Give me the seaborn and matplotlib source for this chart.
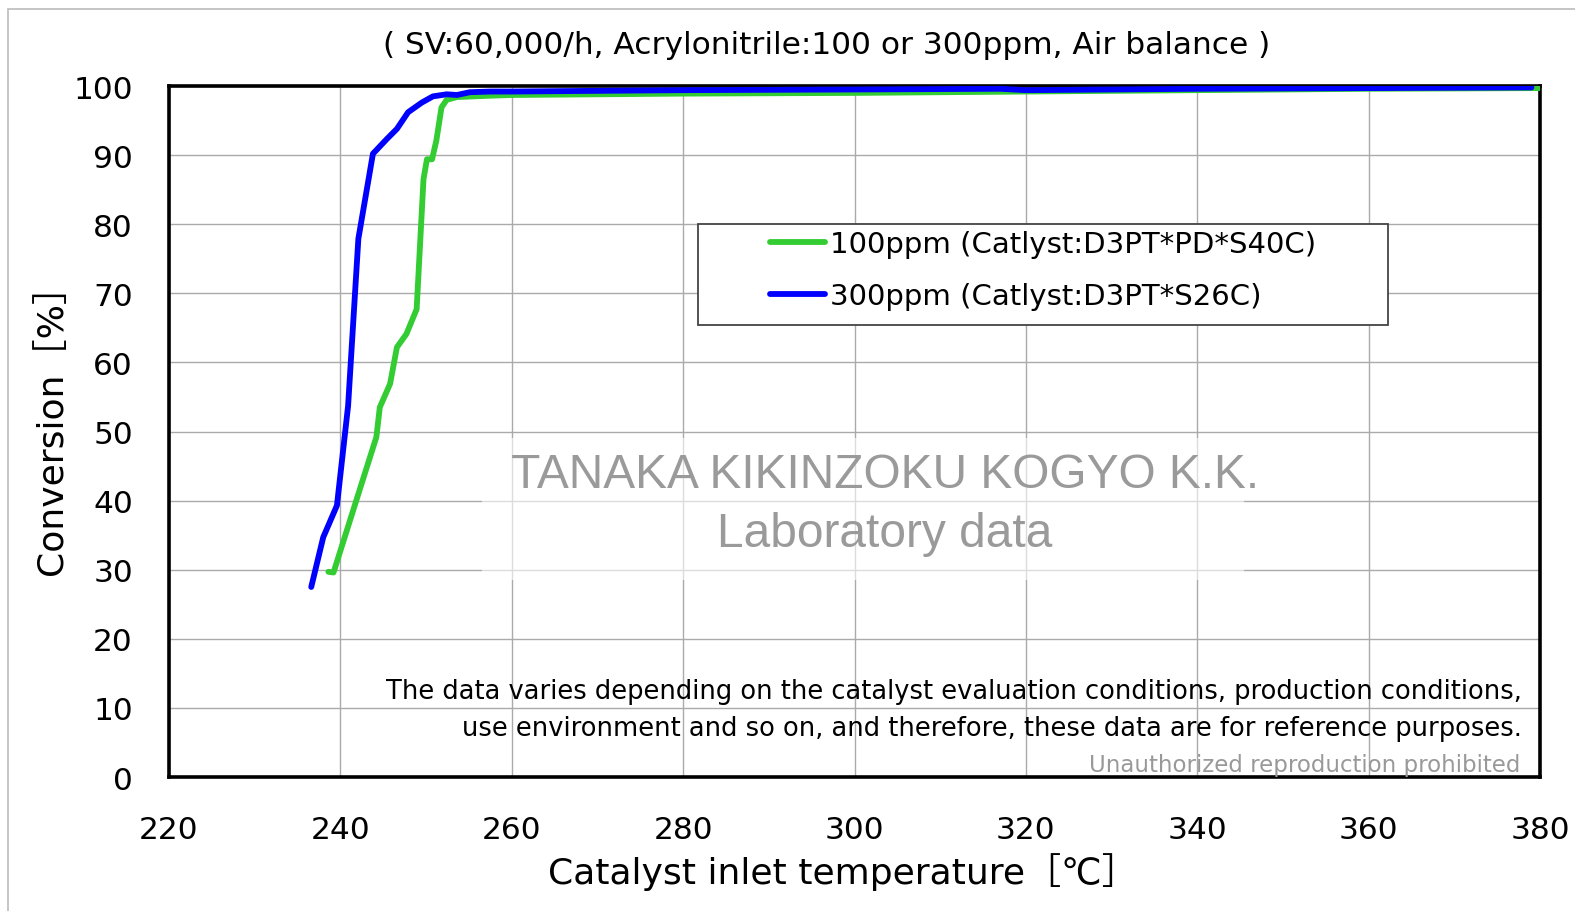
import numpy as np
import pandas as pd
import seaborn as sns
from matplotlib import pyplot as plt
from matplotlib.patches import Rectangle

# 100ppm, Catlyst D3PT*PD*S40C
temp_100 = [238.6, 239.2, 244.2, 244.6, 245.8, 246.6, 247.7, 248.9, 249.7, 250.1, 250.7,
            251.2, 251.8, 252.4, 253.6, 257.5, 260, 280, 300, 320, 340, 360, 380]
conv_100 = [29.7, 29.6, 49.2, 53.5, 56.9, 62.2, 64.1, 67.7, 86.5, 89.4, 89.4,
            92.1, 96.9, 98.0, 98.4, 98.6, 98.7, 98.9, 99.0, 99.2, 99.4, 99.6, 99.7]

# 300ppm, Catlyst D3PT*S26C
temp_300 = [236.6, 238.0, 239.6, 240.9, 242.1, 243.8, 245.4, 246.6, 247.9, 249.5, 250.8,
            252.4, 253.6, 255.1, 257.5, 260, 280, 300, 317, 320, 340, 360, 379]
conv_300 = [27.5, 34.7, 39.3, 53.7, 77.9, 90.2, 92.3, 93.8, 96.2, 97.6, 98.5,
            98.8, 98.7, 99.1, 99.2, 99.2, 99.4, 99.5, 99.6, 99.4, 99.6, 99.7, 99.8]

labels = ['100ppm (Catlyst:D3PT*PD*S40C)', '300ppm (Catlyst:D3PT*S26C)']
colors = ['#33CC33', '#0000FF']

df = pd.concat([
    pd.DataFrame({'temp': temp_100, 'conv': conv_100, 'series': labels[0]}),
    pd.DataFrame({'temp': temp_300, 'conv': conv_300, 'series': labels[1]}),
])

sns.set_style('white')
plt.rcParams['font.family'] = ['DejaVu Sans', 'Noto Sans CJK JP']
plt.rcParams.update({'text.color': 'black', 'axes.labelcolor': 'black',
                     'xtick.color': 'black', 'ytick.color': 'black'})

fig = plt.figure(figsize=(15.75, 9.12), dpi=100)
ax = fig.add_axes([0.1073, 0.1469, 0.8705, 0.7577])

# outer frame of the chart area
fig.add_artist(Rectangle((8 / 1575, -0.1), 1.2, 1 - 10 / 912 + 0.1, transform=fig.transFigure,
                         fill=False, edgecolor='#BBBBBB', linewidth=1.2))

sns.lineplot(data=df, x='temp', y='conv', hue='series', palette=colors, sort=False,
             linewidth=4.2, ax=ax, zorder=5)

ax.set_xlim(220, 380)
ax.set_ylim(0, 100)
ax.set_xticks(np.arange(220, 381, 20))
ax.set_yticks(np.arange(0, 101, 10))
ax.grid(True, color='#AAAAAA', linewidth=1.0)
ax.tick_params(axis='both', labelsize=22.5, direction='in', length=8, width=1)
ax.tick_params(axis='x', pad=27)
ax.tick_params(axis='y', pad=26)
for s in ax.spines.values():
    s.set_linewidth(2.6)
    s.set_color('black')

ax.set_xlabel('Catalyst inlet temperature［℃］', fontsize=26)
ax.xaxis.label.set_va('center')
ax.xaxis.set_label_coords(0.4916, -0.136)
ax.set_ylabel('Conversion［%］', fontsize=26)
ax.yaxis.label.set_va('center')
ax.yaxis.set_label_coords(-0.0855, 0.518)

fig.text(0.525, 0.95, '( SV:60,000/h, Acrylonitrile:100 or 300ppm, Air balance )',
         ha='center', va='center', fontsize=22.5)

# watermark
ax.add_patch(Rectangle((256.5, 28.5), 89, 20.5, facecolor='white', alpha=0.6,
                       edgecolor='none', zorder=2))
ax.text(0.522, 0.4385, 'TANAKA KIKINZOKU KOGYO K.K.', transform=ax.transAxes, ha='center',
        va='center', fontsize=34.5, color='#9A9A9A', family='Liberation Sans', zorder=3)
ax.text(0.522, 0.3517, 'Laboratory data', transform=ax.transAxes, ha='center',
        va='center', fontsize=34.5, color='#9A9A9A', family='Liberation Sans', zorder=3)

ax.text(0.9869, 0.1245, 'The data varies depending on the catalyst evaluation conditions, production conditions,',
        transform=ax.transAxes, ha='right', va='center', fontsize=18.5, zorder=6)
ax.text(0.9869, 0.0709, 'use environment and so on, and therefore, these data are for reference purposes.',
        transform=ax.transAxes, ha='right', va='center', fontsize=18.5, zorder=6)
ax.text(0.9854, 0.0188, 'Unauthorized reproduction prohibited',
        transform=ax.transAxes, ha='right', va='center', fontsize=16.5, color='#999999', zorder=6)

# legend box drawn separately, the legend itself without frame
ax.add_patch(Rectangle((0.3858, 0.654), 0.5033, 0.146, transform=ax.transAxes, facecolor='white',
                       edgecolor='#444444', linewidth=1.3, zorder=6))
leg = ax.legend(loc='center left', bbox_to_anchor=(0.4384, 0.7337), fontsize=21, frameon=False,
                handlelength=1.9, handletextpad=0.15, borderpad=0, labelspacing=0.82,
                borderaxespad=0)
leg.set_zorder(7)
leg.set_title(None)

plt.savefig('out.png', dpi=100)
